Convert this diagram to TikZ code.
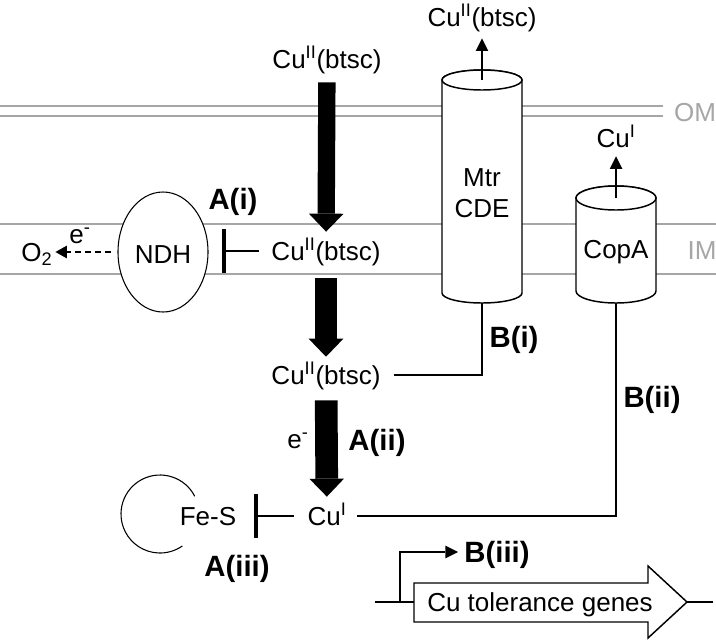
\documentclass[tikz,border=0pt]{standalone}
\usepackage{fontspec}
\setmainfont{Liberation Sans}
\usepackage{tikz}
\usetikzlibrary{arrows.meta, positioning, shapes.geometric}
\definecolor{membrane}{HTML}{A6A6A6}

\begin{document}
\begin{tikzpicture}[x=0.75pt, y=-0.75pt, font=\fontsize{19.5}{23.25}\selectfont]
  \tikzset{
    txt/.style={inner sep=0pt, text height=14pt, text depth=0pt},
    lab/.style={inner sep=0pt, text height=15.5pt, text depth=0pt, font=\fontsize{22}{26}\selectfont\bfseries},
    mem/.style={membrane, line width=1.5pt},
    link/.style={line width=1.5pt},
    bigarrow/.style={-{Triangle[width=26pt, length=13.5pt, line width=0pt]}},
    outarrow/.style={line width=1.5pt, -{Triangle[width=9.5pt, length=9.5pt, line width=0pt]}},
    dasharrow/.style={line width=1.6pt, dash pattern=on 5pt off 2.5pt, -{Triangle[width=9.5pt, length=8.5pt, line width=0pt]}},
    inhib/.style={line width=1.5pt, -{Bar[width=33pt, line width=3pt]}},
    cyl/.style={draw, fill=white, line width=1.1pt},
  }
  \useasboundingbox (0,0) rectangle (716,642);

  % Membranes
  \draw[mem] (0,106) -- (663,106);
  \draw[mem] (0,116) -- (663,116);
  \draw[mem] (0,224) -- (716,224);
  \draw[mem] (0,274) -- (716,274);
  \node[txt, membrane] (om) at (695,112) {OM};
  \node[txt, membrane] (im) at (702,250) {IM};

  % Cu(btsc) through the cell
  \node[txt] (cuA) at (327,59.5) {Cu\textsuperscript{II}(btsc)};
  \node[txt] (cuB) at (326,251) {Cu\textsuperscript{II}(btsc)};
  \node[txt] (cuC) at (326,375) {Cu\textsuperscript{II}(btsc)};
  \node[txt] (cuI) at (327,516) {Cu\textsuperscript{I}};
  \draw[bigarrow, line width=13pt, shorten <=9.9pt, shorten >=7.3pt] (cuA) -- (cuB);
  \draw[bigarrow, line width=17pt, shorten <=13.3pt, shorten >=6.5pt] (cuB) -- (cuC);
  \draw[bigarrow, line width=17pt, shorten <=11.8pt, shorten >=7.3pt] (cuC) -- (cuI);
  \node[txt] (eB) at (298,439) {e\textsuperscript{-}};
  \node[lab] (Aii) at (377,440) {A(ii)};

  % A(i): NDH
  \node[ellipse, draw, fill=white, line width=0.8pt, inner sep=0pt,
        minimum width=67.5pt, minimum height=90pt] (ndh) at (163,252) {};
  \node[txt] (ndhtxt) at (163,254) {NDH};
  \node[txt] (o2) at (37,252) {O\textsubscript{2}};
  \node[txt] (eA) at (80,234) {e\textsuperscript{-}};
  \draw[dasharrow, shorten <=4.5pt, shorten >=2pt] (ndh.west |- o2.east) -- (o2.east);
  \draw[inhib, shorten <=9pt, shorten >=10pt] (cuB.west) -- (ndh.east |- cuB.west);
  \node[lab] (Ai) at (233,199) {A(i)};

  % A(iii): Fe-S
  \node[txt] (fes) at (208,516) {Fe-S};
  \draw[line width=0.8pt] (160,514) ++(-27:39) arc[start angle=-27, end angle=-305, radius=39];
  \draw[inhib, shorten <=10pt, shorten >=12.8pt] (cuI.west) -- (fes.east);
  \node[lab] (Aiii) at (237,566) {A(iii)};

  % B(i): MtrCDE
  \filldraw[cyl] (442,80) -- (442,293) arc[start angle=180, end angle=0, x radius=40, y radius=10]
    -- (522,80) arc[start angle=0, end angle=-180, x radius=40, y radius=10] -- cycle;
  \draw[cyl] (482,80) ellipse[x radius=40, y radius=10];
  \coordinate (mtrtop) at (482,80);
  \coordinate (mtrbot) at (482,303);
  \node[inner sep=0pt, align=center] (mtr) at (482,193) {Mtr\\CDE};
  \node[txt] (cuOut) at (482,17) {Cu\textsuperscript{II}(btsc)};
  \draw[outarrow, shorten >=8.8pt] (mtrtop) -- (cuOut);
  \draw[link, shorten >=10pt] (mtrbot) |- (cuC.east);
  \node[lab] (Bi) at (514,337) {B(i)};

  % B(ii): CopA
  \filldraw[cyl] (576,198) -- (576,291) arc[start angle=180, end angle=0, x radius=40, y radius=12]
    -- (656,198) arc[start angle=0, end angle=-180, x radius=40, y radius=12] -- cycle;
  \draw[cyl] (616,198) ellipse[x radius=40, y radius=12];
  \coordinate (coptop) at (616,198);
  \coordinate (copbot) at (616,303);
  \node[txt] (copa) at (616,249) {CopA};
  \node[txt] (cuIout) at (616,138) {Cu\textsuperscript{I}};
  \draw[outarrow, shorten >=6.5pt] (coptop) -- (cuIout);
  \draw[link, shorten >=8pt] (copbot) |- (cuI.east);
  \node[lab] (Bii) at (652,397) {B(ii)};

  % B(iii): Cu tolerance genes
  \draw[link] (375,602) -- (713,602);
  \filldraw[cyl] (414,583) -- (648,583) -- (648,566) -- (687,602) -- (648,638) -- (648,622) -- (414,622) -- cycle;
  \node[txt] (genes) at (540,602) {Cu tolerance genes};
  \node[lab] (Biii) at (497,552) {B(iii)};
  \coordinate (tss) at (400,602);
  \draw[outarrow, line width=2pt, shorten >=4.5pt] (tss) |- (Biii);
\end{tikzpicture}
\end{document}
